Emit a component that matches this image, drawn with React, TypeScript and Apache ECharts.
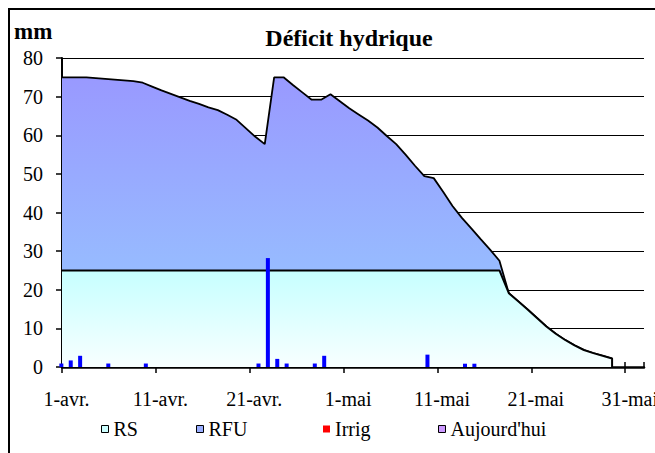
import React, { useEffect, useRef } from 'react';
import * as echarts from 'echarts';

// x-axis: days from 1-avr. (day 0) to 2-juin (day 62)
const DAY_COUNT = 62;
const TICK_DAYS = [0, 10, 20, 30, 40, 50, 60];
const TICK_LABELS = ['1-avr.', '11-avr.', '21-avr.', '1-mai', '11-mai', '21-mai', '31-mai'];

// RS level (mm)
const RS_LEVEL = 25;

// Daily water reserve curve (mm), day 0 .. day 58
const RESERVE = [
  75, 75, 75, 74.8, 74.6, 74.4, 74.2, 74.0, 73.6, 72.6,
  71.6, 70.7, 69.8, 68.9, 68.1, 67.2, 66.5, 65.3, 64.0, 61.8,
  59.6, 57.7, 75, 75, 73.0, 71.1, 69.2, 69.2, 70.6, 68.8,
  67.0, 65.4, 63.8, 62.0, 59.8, 57.7, 55.0, 52.1, 49.4, 48.9,
  45.4, 41.7, 38.6, 35.9, 33.1, 30.4, 27.5, 19.1, 17.0, 14.9,
  12.7, 10.5, 8.6, 7.0, 5.6, 4.4, 3.6, 2.9, 2.2,
];

// Rain (mm)
const RAIN_DAYS = [0, 1, 2, 5, 9, 21, 22, 23, 24, 27, 28, 39, 43, 44];
const RAIN_MM = [0.9, 1.7, 2.9, 0.9, 0.9, 0.9, 28.2, 2.1, 0.9, 0.9, 2.9, 3.2, 0.85, 0.85];

// Irrigation (mm) and today's marker: none visible
const IRRIG_DAYS: number[] = [];
const IRRIG_MM: number[] = [];
const TODAY_DAYS: number[] = [];
const TODAY_MM: number[] = [];

const FONT = 'Liberation Serif';

export default function App() {
  const ref = useRef<HTMLDivElement>(null);

  useEffect(() => {
    const chart = echarts.init(ref.current!, null, { renderer: 'svg' });
    const POINT_OFFSET = 0.6;
    const BAR_OFFSET = 0.4;
    const lastX = RESERVE.length - 1 + POINT_OFFSET;
    const total: number[][] = [
      [0, RESERVE[0]],
      ...RESERVE.map((v, k) => [k + POINT_OFFSET, v]),
      [lastX, 0],
    ];
    const rs = total.map(([x, v]) => [x, Math.min(v, RS_LEVEL)]);
    const rain = RAIN_DAYS.map((d, i) => [d + BAR_OFFSET, RAIN_MM[i]]);
    const irrig = IRRIG_DAYS.map((d, i) => [d + BAR_OFFSET, IRRIG_MM[i]]);
    const today = TODAY_DAYS.map((d, i) => [d + BAR_OFFSET, TODAY_MM[i]]);

    const legendBase = {
      top: 419,
      itemWidth: 7,
      itemHeight: 7,
      padding: 0,
      itemGap: 0,
      textStyle: { fontFamily: FONT, fontSize: 20, color: '#000' },
    };

    chart.setOption({
      animation: false,
      backgroundColor: '#fff',
      textStyle: { fontFamily: FONT },
      grid: { left: 62, right: 11, top: 58, bottom: 86, outerBoundsMode: 'none' },
      xAxis: [
        {
          type: 'value',
          min: 0,
          max: DAY_COUNT,
          position: 'bottom',
          axisLine: { show: true, onZero: false, lineStyle: { color: '#000', width: 2.5 } },
          axisTick: { show: true, customValues: TICK_DAYS, length: 6, lineStyle: { color: '#000', width: 1.5 } },
          axisLabel: {
            customValues: TICK_DAYS,
            formatter: (v: number) => {
              const i = TICK_DAYS.indexOf(Math.round(v));
              return i >= 0 ? TICK_LABELS[i] : '';
            },
            fontFamily: FONT,
            fontSize: 20,
            color: '#000',
            margin: 22,
            padding: [0, 0, 0, 9],
          },
          splitLine: { show: false },
        },
        {
          type: 'value',
          min: 0,
          max: DAY_COUNT,
          interval: 2,
          position: 'bottom',
          axisLine: { show: false, onZero: false },
          axisTick: { show: true, inside: true, length: 5, lineStyle: { color: '#000', width: 1.5 } },
          axisLabel: { show: false },
          splitLine: { show: false },
        },
      ],
      yAxis: {
        type: 'value',
        min: 0,
        max: 80,
        interval: 10,
        axisLine: { show: true, lineStyle: { color: '#000', width: 2 } },
        axisTick: { show: true, length: 6, lineStyle: { color: '#000', width: 1.5 } },
        axisLabel: { fontFamily: FONT, fontSize: 20, color: '#000', margin: 19 },
        splitLine: { show: true, lineStyle: { color: '#000', width: 1.2 } },
      },
      legend: [
        { ...legendBase, left: 101, data: [{ name: 'RS', icon: 'rect', itemStyle: { color: '#CCFFFF', borderColor: '#000', borderWidth: 1 } }] },
        { ...legendBase, left: 196, data: [{ name: 'RFU', icon: 'rect', itemStyle: { color: '#99AEFF', borderColor: '#000', borderWidth: 1 } }] },
        { ...legendBase, left: 323, data: [{ name: 'Irrig', icon: 'rect', itemStyle: { color: '#FF0000', borderWidth: 0 } }] },
        { ...legendBase, left: 438, data: [{ name: "Aujourd'hui", icon: 'rect', itemStyle: { color: '#CC99FF', borderColor: '#000', borderWidth: 1 } }] },
      ],
      graphic: [
        {
          type: 'rect',
          shape: { x: 9, y: 9, width: 1000, height: 1000 },
          style: { fill: 'none', stroke: '#000', lineWidth: 2 },
          silent: true,
        },
        {
          type: 'text',
          x: 349,
          y: 38,
          style: { text: 'Déficit hydrique', font: `bold 24px "${FONT}"`, fill: '#000', textAlign: 'center', textVerticalAlign: 'middle' },
        },
        {
          type: 'text',
          x: 14,
          y: 31,
          style: { text: 'mm', font: `bold 23px "${FONT}"`, fill: '#000', textAlign: 'left', textVerticalAlign: 'middle' },
        },
      ],
      series: [
        {
          name: 'RFU',
          type: 'line',
          data: total,
          showSymbol: false,
          symbol: 'none',
          itemStyle: { color: '#99AEFF' },
          lineStyle: { color: '#000', width: 1.8 },
          areaStyle: {
            opacity: 1,
            color: new echarts.graphic.LinearGradient(0, 77, 0, 270, [
              { offset: 0, color: '#9999FF' },
              { offset: 1, color: '#97BBFF' },
            ], true),
          },
          z: 2,
        },
        {
          name: 'RS',
          type: 'line',
          data: rs,
          showSymbol: false,
          symbol: 'none',
          itemStyle: { color: '#CCFFFF' },
          lineStyle: { color: '#000', width: 2 },
          areaStyle: {
            opacity: 1,
            color: new echarts.graphic.LinearGradient(0, 0, 0, 1, [
              { offset: 0, color: '#C6FFFF' },
              { offset: 1, color: '#F8FFFF' },
            ]),
          },
          z: 3,
        },
        {
          name: 'Pluie',
          type: 'bar',
          data: rain,
          barWidth: 4,
          itemStyle: { color: '#0000FF' },
          z: 4,
        },
        {
          name: 'Irrig',
          type: 'bar',
          data: irrig,
          barWidth: 4,
          itemStyle: { color: '#FF0000' },
          z: 4,
        },
        {
          name: "Aujourd'hui",
          type: 'bar',
          data: today,
          barWidth: 4,
          itemStyle: { color: '#CC99FF', borderColor: '#000', borderWidth: 1 },
          z: 4,
        },
      ],
    });
    return () => chart.dispose();
  }, []);

  return (
    <div
      ref={ref}
      style={{ position: 'fixed', left: 0, top: 0, width: 655, height: 453 }}
    />
  );
}
